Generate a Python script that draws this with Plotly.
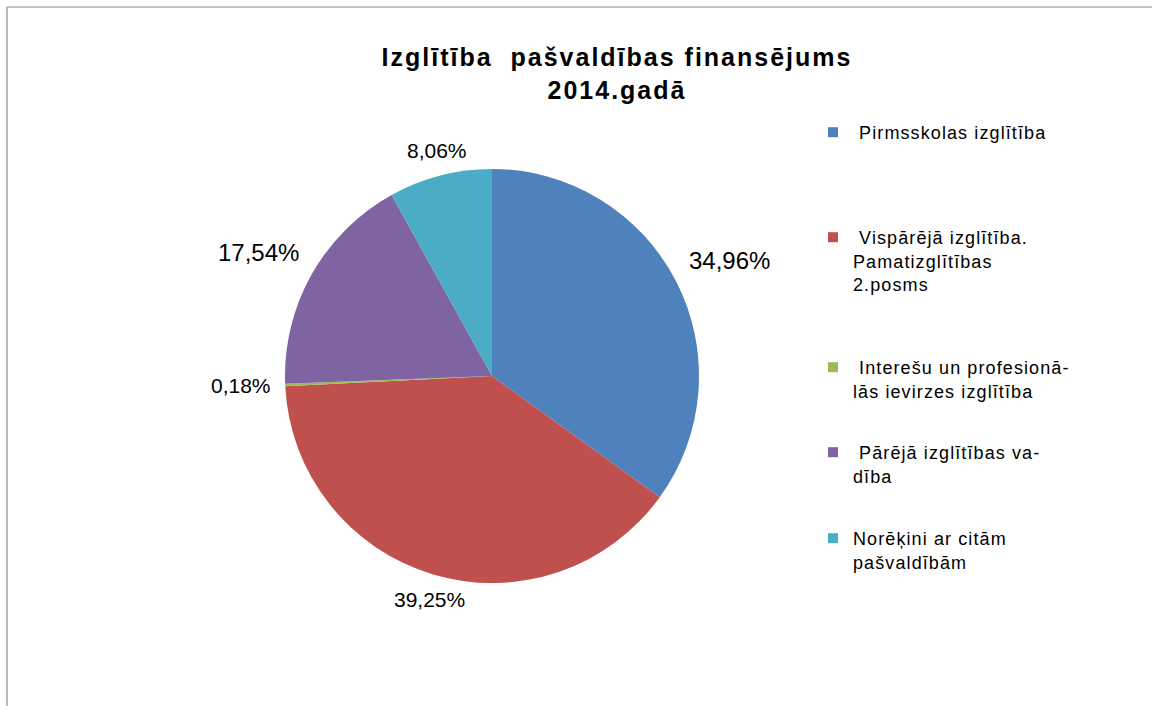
import math
import plotly.graph_objects as go

# ---- data ----
categories = [
    "Pirmsskolas izglītība",
    "Vispārējā izglītība. Pamatizglītības 2.posms",
    "Interešu un profesionālās ievirzes izglītība",
    "Pārējā izglītības vadība",
    "Norēķini ar citām pašvaldībām",
]
legend_lines = [
    ["\u00a0Pirmsskolas izglītība"],
    ["\u00a0Vispārējā izglītība.", "Pamatizglītības", "2.posms"],
    ["\u00a0Interešu un profesionā-", "lās ievirzes izglītība"],
    ["\u00a0Pārējā izglītības va-", "dība"],
    ["Norēķini ar citām", "pašvaldībām"],
]
shares = [34.96, 39.25, 0.18, 17.54, 8.06]
colors = ["#4F81BD", "#C0504D", "#9BBB59", "#8064A2", "#4BACC6"]
label_sizes = [24, 21, 21, 24, 21]
title_lines = ["Izglītība  pašvaldības finansējums", "2014.gadā"]

W, H = 1152, 706
FONT = "Liberation Sans, Arial, sans-serif"


def px(x):
    return x / W


def py(y):
    return 1 - y / H


# pie geometry (pixels)
CX, CY, R = 492, 376, 207

fig = go.Figure()
fig.add_trace(go.Pie(
    labels=categories,
    values=shares,
    sort=False,
    direction="clockwise",
    rotation=0,
    marker=dict(colors=colors, line=dict(width=0)),
    textinfo="none",
    hoverinfo="label+percent",
    showlegend=False,
    domain=dict(x=[px(CX - R), px(CX + R)], y=[py(CY + R), py(CY - R)]),
))

# data labels placed from slice mid-angles
total = sum(shares)
cum = 0.0
annotations = []
GAP = 12
for v, fs in zip(shares, label_sizes):
    mid = 2 * math.pi * (cum + v / 2) / total
    cum += v
    dx, dy = math.sin(mid), -math.cos(mid)  # dy in screen coords (down)
    x = CX + dx * (R + GAP)
    y = CY + dy * (R + GAP)
    xa = "left" if dx > 0.3 else ("right" if dx < -0.3 else "center")
    ya = "top" if dy > 0.3 else ("bottom" if dy < -0.3 else "middle")
    annotations.append(dict(
        x=px(x), y=py(y), xref="paper", yref="paper",
        xanchor=xa, yanchor=ya, showarrow=False,
        text=f"{v:.2f}".replace(".", ",") + "%",
        font=dict(family=FONT, size=fs, color="#000000"),
    ))

# legend entries (one legend per entry so the spacing can follow the reference)
legend_tops = [133, 238, 368, 453, 539]
legend_layout = {}
for i, (lines, c, top) in enumerate(zip(legend_lines, colors, legend_tops)):
    key = "legend" if i == 0 else f"legend{i+1}"
    name = "<br>".join(f"<span style='letter-spacing:1.1px'>{ln}</span>" for ln in lines)
    fig.add_trace(go.Scatter(
        x=[None], y=[None], mode="markers",
        marker=dict(symbol="square", size=10, color=c),
        name=name, showlegend=True, legend=key, hoverinfo="skip",
    ))
    legend_layout[key] = dict(
        x=px(813), y=py(top - 19), xanchor="left", yanchor="top",
        xref="paper", yref="paper",
        font=dict(family=FONT, size=18, color="#000000"),
        bgcolor="rgba(0,0,0,0)", borderwidth=0, valign="top",
        itemclick=False, itemdoubleclick=False,
    )

title_text = "<br>".join(
    f"<span style='letter-spacing:2px'><b>{t}</b></span>" for t in title_lines
)

fig.update_layout(
    width=W, height=H,
    margin=dict(l=0, r=0, t=0, b=0),
    paper_bgcolor="white", plot_bgcolor="white",
    title=dict(
        text=title_text, x=px(617), xanchor="center", xref="paper",
        y=py(66), yanchor="top", yref="container",
        font=dict(family=FONT, size=25, color="#000000"),
    ),
    xaxis=dict(visible=False), yaxis=dict(visible=False),
    annotations=annotations,
    shapes=[
        dict(type="line", xref="paper", yref="paper",
             x0=px(7), x1=1.01, y0=py(7), y1=py(7),
             line=dict(color="#8c8c8c", width=1.2)),
        dict(type="line", xref="paper", yref="paper",
             x0=px(7), x1=px(7), y0=py(7), y1=-0.01,
             line=dict(color="#8c8c8c", width=1.2)),
    ],
    **legend_layout,
)

fig.write_html(
    "out.html",
    config={"displayModeBar": False},
    post_script="document.body.style.margin='0';document.body.style.padding='0';",
)
